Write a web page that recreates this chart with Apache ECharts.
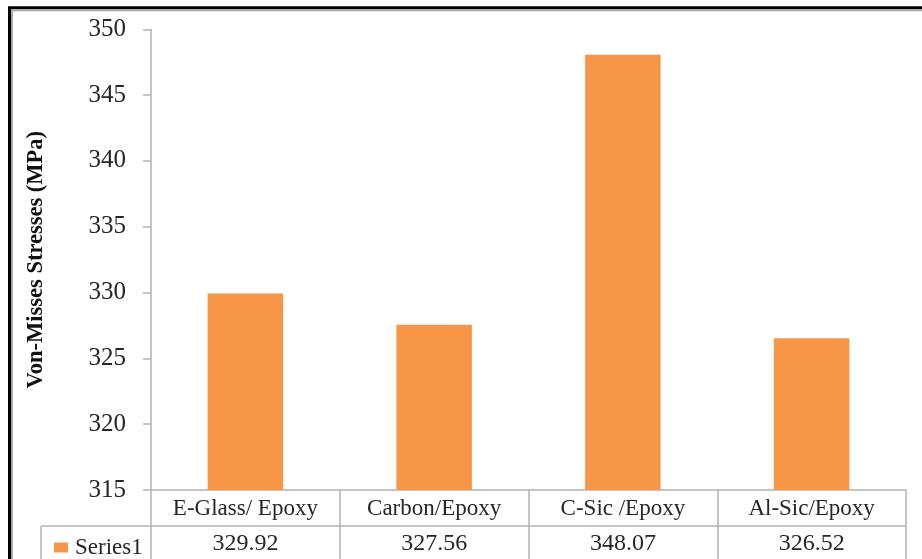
<!DOCTYPE html>
<html>
<head>
<meta charset="utf-8">
<script src="https://cdn.jsdelivr.net/npm/echarts@6/dist/echarts.min.js"></script>
<style>
  html, body { margin: 0; padding: 0; background: #fff; }
  #chart { width: 922px; height: 559px; }
</style>
</head>
<body>
<div id="chart"></div>
<script>
// Von-Mises stress by composite material
const categories = ['E-Glass/ Epoxy', 'Carbon/Epoxy', 'C-Sic /Epoxy', 'Al-Sic/Epoxy'];
const seriesName = 'Series1';
const stressValues = [329.92, 327.56, 348.07, 326.52];
const yTicks = { min: 315, max: 350, interval: 5 };

const serif = "'Liberation Serif', 'Times New Roman', serif";
const textColor = '#262626';
const lineColor = '#b3b3b3';
const barColor = '#F79646';

const chart = echarts.init(document.getElementById('chart'));

const gridLeft = 151, gridRight = 16, gridTop = 29.3, gridBottom = 69;
const rowSplitY = 526;               // line between category row and value row
const tableLeft = 41;                // left edge of the legend cell

chart.setOption({
  animation: false,
  backgroundColor: '#fff',
  grid: { left: gridLeft, right: gridRight, top: gridTop, bottom: gridBottom },
  legend: {
    data: [seriesName],
    left: 49, top: 531,
    icon: 'rect',
    itemWidth: 14, itemHeight: 10,
    textStyle: { fontFamily: serif, fontSize: 23, color: textColor, padding: [0, 0, 0, 2] }
  },
  xAxis: [
    {
      type: 'category',
      data: categories,
      position: 'bottom',
      axisLine: { show: true, lineStyle: { color: lineColor, width: 1.5 } },
      axisTick: { show: true, length: 72, lineStyle: { color: lineColor, width: 1.5 } },
      axisLabel: { margin: 7, fontFamily: serif, fontSize: 23, lineHeight: 23, color: textColor }
    },
    {
      type: 'category',
      data: categories,
      position: 'bottom',
      axisLine: { show: false },
      axisTick: { show: false },
      axisLabel: {
        margin: 42, fontFamily: serif, fontSize: 24, lineHeight: 23, color: textColor,
        formatter: (v, i) => stressValues[i].toFixed(2)
      }
    }
  ],
  yAxis: {
    type: 'value',
    min: yTicks.min, max: yTicks.max, interval: yTicks.interval,
    name: 'Von-Misses Stresses (MPa)',
    nameLocation: 'middle',
    nameGap: 103,
    nameTextStyle: { fontFamily: serif, fontSize: 22.5, fontWeight: 'bold', color: '#111' },
    axisLine: { show: true, lineStyle: { color: lineColor, width: 1.5 } },
    axisTick: { show: true, length: 8, lineStyle: { color: lineColor, width: 1.5 } },
    axisLabel: { margin: 25, fontFamily: serif, fontSize: 25, color: textColor },
    splitLine: { show: false }
  },
  series: [{
    name: seriesName,
    type: 'bar',
    data: stressValues,
    barWidth: '40%',
    itemStyle: { color: barColor }
  }],
  graphic: [
    // horizontal divider under the category row
    { type: 'line', shape: { x1: tableLeft, y1: rowSplitY, x2: 922 - gridRight, y2: rowSplitY },
      style: { stroke: lineColor, lineWidth: 1.5 } },
    // left edge of the legend cell
    { type: 'line', shape: { x1: tableLeft, y1: rowSplitY, x2: tableLeft, y2: 600 },
      style: { stroke: lineColor, lineWidth: 1.5 } },
    // frame around the chart
    { type: 'rect', shape: { x: 9.5, y: 7.8, width: 1000, height: 1000 },
      style: { fill: 'none', stroke: '#000', lineWidth: 3 } },
    { type: 'rect', shape: { x: 12, y: 10.2, width: 1000, height: 1000 },
      style: { fill: 'none', stroke: '#a8a8a8', lineWidth: 2 } }
  ]
});
</script>
</body>
</html>
